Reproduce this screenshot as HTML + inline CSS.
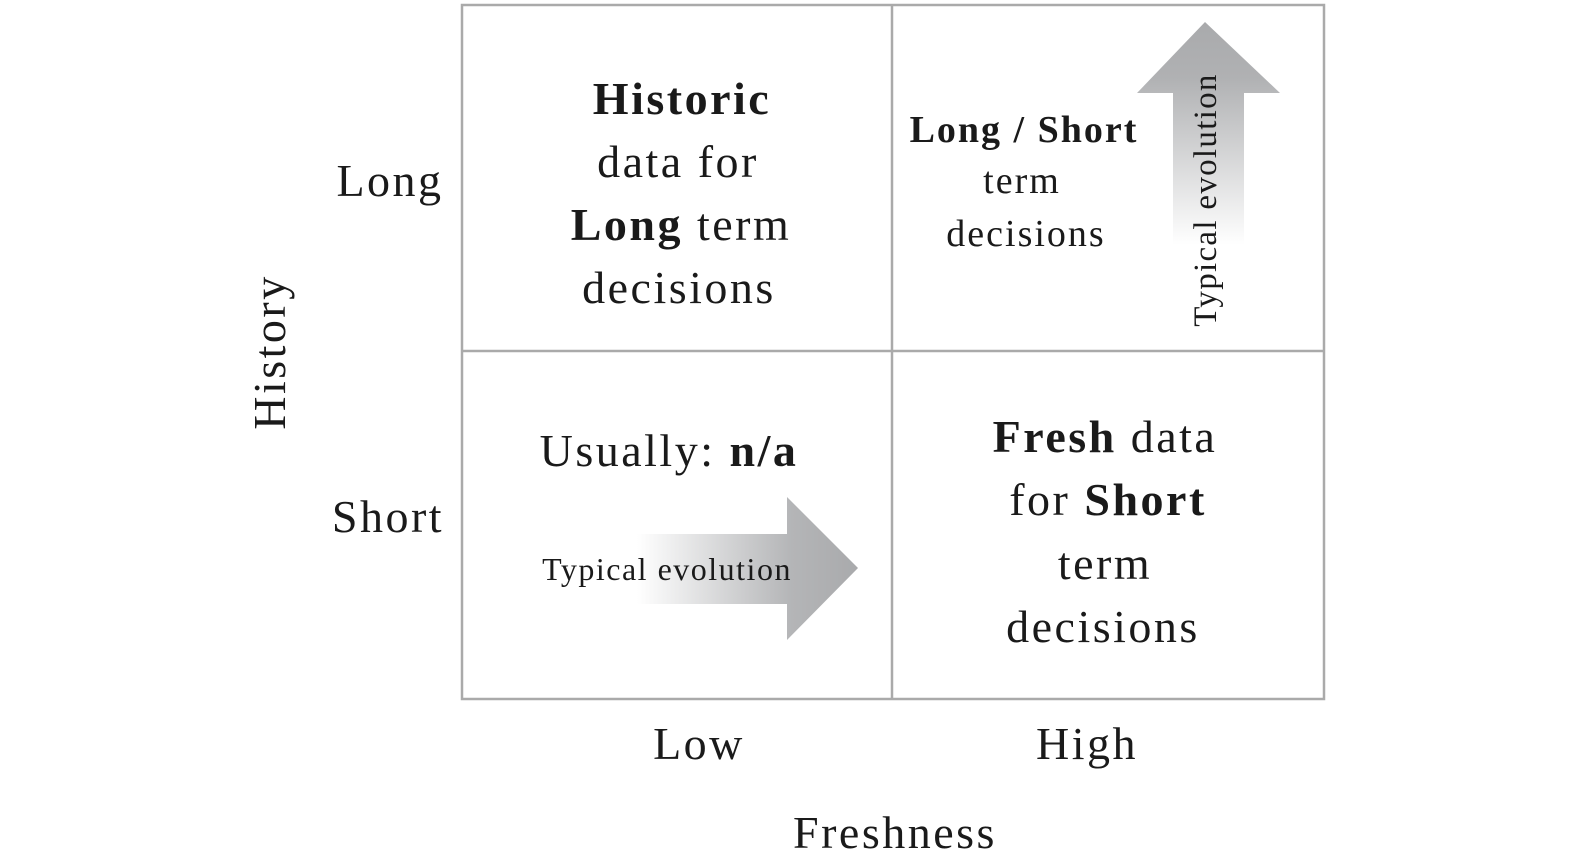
<!DOCTYPE html>
<html><head><meta charset="utf-8"><style>
html,body{margin:0;padding:0;background:#fff;}
svg{display:block;}
text{font-family:"Liberation Serif",serif;fill:#1a1a1a;}
.b{font-weight:bold;}
</style></head><body>
<svg width="1575" height="866" viewBox="0 0 1575 866" xmlns="http://www.w3.org/2000/svg">
<defs>
<linearGradient id="gu" x1="0" y1="1" x2="0" y2="0">
<stop offset="0" stop-color="#fff"/><stop offset="0.75" stop-color="#b0b1b3"/><stop offset="1" stop-color="#a9aaac"/></linearGradient>
<linearGradient id="gr" x1="0" y1="0" x2="1" y2="0">
<stop offset="0" stop-color="#fff"/><stop offset="0.7" stop-color="#b4b5b7"/><stop offset="1" stop-color="#a9aaac"/></linearGradient>
</defs>
<g stroke="#aaaaaa" stroke-width="2.5" fill="none">
<rect x="462" y="5" width="862" height="694"/>
<line x1="892" y1="5" x2="892" y2="699"/>
<line x1="462" y1="351" x2="1324" y2="351"/>
</g>
<polygon points="1205,22 1280,93 1244,93 1244,245 1173,245 1173,93 1137,93" fill="url(#gu)"/>
<polygon points="637,534 787,534 787,497 858,568 787,640 787,604 637,604" fill="url(#gr)"/>
<g font-size="46" text-anchor="middle" letter-spacing="2.5">
<text x="390" y="196">Long</text>
<text x="388" y="532">Short</text>
<text x="699" y="759">Low</text>
<text x="1087" y="759">High</text>
<text x="895" y="848">Freshness</text>
<text transform="translate(285,352) rotate(-90)">History</text>
<text x="682" y="114" class="b">Historic</text>
<text x="678" y="177">data for</text>
<text x="681" y="240"><tspan class="b">Long</tspan> term</text>
<text x="679" y="303">decisions</text>
<text x="669" y="466">Usually: <tspan class="b">n/a</tspan></text>
<text x="1105" y="452"><tspan class="b">Fresh</tspan> data</text>
<text x="1108" y="515">for <tspan class="b">Short</tspan></text>
<text x="1105" y="579">term</text>
<text x="1103" y="642">decisions</text>
</g>
<g font-size="38" text-anchor="middle" letter-spacing="2">
<text x="1024" y="142" class="b">Long / Short</text>
<text x="1022" y="193">term</text>
<text x="1026" y="246">decisions</text>
</g>
<text x="667" y="580" font-size="32" text-anchor="middle" letter-spacing="1.5">Typical evolution</text>
<text transform="translate(1216,200) rotate(-90)" font-size="33" text-anchor="middle" letter-spacing="1.3">Typical evolution</text>
</svg>
</body></html>
